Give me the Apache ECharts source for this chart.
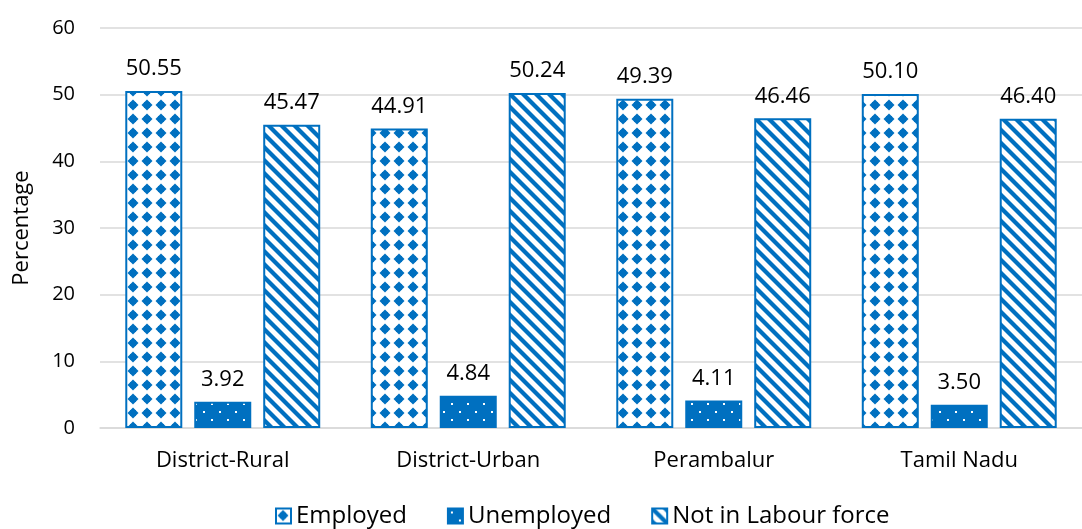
<!DOCTYPE html>
<html><head><meta charset="utf-8">
<script src="https://cdn.jsdelivr.net/npm/echarts@6/dist/echarts.min.js"></script>
<style>html,body{margin:0;padding:0;background:#fff}#c{width:1082px;height:529px}</style>
</head><body><div id="c"></div>
<script>
const categories = ['District-Rural', 'District-Urban', 'Perambalur', 'Tamil Nadu'];
const employed = [50.55, 44.91, 49.39, 50.10];
const unemployed = [3.92, 4.84, 4.11, 3.50];
const notInLabour = [45.47, 50.24, 46.46, 46.40];
const yTicks = { min: 0, max: 60, interval: 10 };

const BLUE = '#0070C0';
function diamondTile() {
  const s = 14, c = document.createElement('canvas'); c.width = s; c.height = s;
  const g = c.getContext('2d'); g.fillStyle = '#fff'; g.fillRect(0, 0, s, s);
  g.fillStyle = BLUE;
  const d = (x, y, r) => { g.beginPath(); g.moveTo(x, y - r); g.lineTo(x + r, y); g.lineTo(x, y + r); g.lineTo(x - r, y); g.closePath(); g.fill(); };
  d(7, 7, 5.5); g.fillRect(4, 4, 6, 6);
  return c;
}
function dotTile() {
  const s = 16, c = document.createElement('canvas'); c.width = s; c.height = s;
  const g = c.getContext('2d'); g.fillStyle = BLUE; g.fillRect(0, 0, s, s);
  g.fillStyle = '#fff'; g.fillRect(3, 3, 2, 2); g.fillRect(11, 11, 2, 2);
  return c;
}
function stripeTile() {
  const s = 13, c = document.createElement('canvas'); c.width = s; c.height = s;
  const g = c.getContext('2d'); g.fillStyle = '#fff'; g.fillRect(0, 0, s, s);
  g.strokeStyle = BLUE; g.lineWidth = 4.2;
  for (let k = -1; k <= 1; k++) { g.beginPath(); g.moveTo(k * s - 2, -2); g.lineTo(k * s + s + 2, s + 2); g.stroke(); }
  return c;
}
const pats = [
  { image: diamondTile(), repeat: 'repeat' },
  { image: dotTile(), repeat: 'repeat' },
  { image: stripeTile(), repeat: 'repeat' }
];
const FONT = '"Open Sans", "Noto Sans", sans-serif';
const names = ['Employed', 'Unemployed', 'Not in Labour force'];
const datas = [employed, unemployed, notInLabour];

const chart = echarts.init(document.getElementById('c'));
chart.setOption({
  animation: false,
  textStyle: { fontFamily: FONT, color: '#000' },
  grid: { left: 100, top: 28, width: 995, height: 400, containLabel: false },
  legend: {
    bottom: -4, left: 270, itemWidth: 15, itemHeight: 15, itemGap: 40,
    icon: 'rect',
    textStyle: { fontFamily: FONT, fontSize: 24, color: '#000' },
    data: names
  },
  xAxis: {
    type: 'category', data: categories,
    axisTick: { show: false },
    axisLine: { lineStyle: { color: '#d9d9d9', width: 1.5 } },
    axisLabel: { fontFamily: FONT, fontSize: 22, color: '#000', margin: 22 }
  },
  yAxis: {
    type: 'value', min: yTicks.min, max: yTicks.max, interval: yTicks.interval,
    name: 'Percentage', nameLocation: 'middle', nameGap: 67,
    nameTextStyle: { fontFamily: FONT, fontSize: 22, color: '#000' },
    axisLabel: { fontFamily: FONT, fontSize: 20, color: '#000', margin: 25 },
    splitLine: { lineStyle: { color: '#d9d9d9', width: 1.5 } },
    axisLine: { show: false }, axisTick: { show: false }
  },
  series: names.map((n, i) => ({
    name: n, type: 'bar', data: datas[i],
    barWidth: 57, barGap: '21%',
    itemStyle: { color: pats[i], borderColor: BLUE, borderWidth: 2 },
    label: {
      show: true, position: 'top', distance: 11,
      fontFamily: FONT, fontSize: 22, color: '#000',
      formatter: p => p.value.toFixed(2)
    }
  }))
});
</script></body></html>
